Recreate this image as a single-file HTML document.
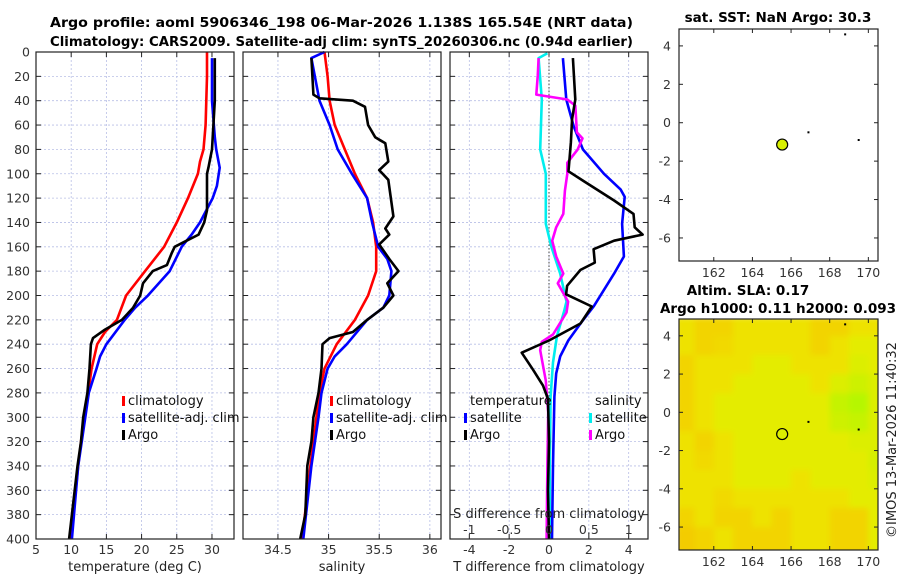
<!DOCTYPE html>
<html><head><meta charset="utf-8">
<style>
html,body{margin:0;padding:0;background:#fff;}
svg{display:block;font-family:"DejaVu Sans","Liberation Sans",sans-serif;}
.tk{font-size:12.5px;fill:#333;}
.ttl{font-size:13.5px;font-weight:bold;fill:#000;}
.lab{font-size:13px;fill:#222;}
.lg{font-size:13px;fill:#111;}
</style></head>
<body>
<svg id="chart" width="900" height="580" viewBox="0 0 900 580" xmlns="http://www.w3.org/2000/svg">
<defs><filter id="blur" x="-5%" y="-5%" width="110%" height="110%"><feGaussianBlur stdDeviation="3"/></filter></defs>
<rect x="0" y="0" width="900" height="580" fill="#fff"/>
<text class="ttl" x="50" y="27" textLength="583" lengthAdjust="spacingAndGlyphs">Argo profile: aoml 5906346_198 06-Mar-2026 1.138S 165.54E (NRT data)</text>
<text class="ttl" x="50" y="46" textLength="583" lengthAdjust="spacingAndGlyphs">Climatology: CARS2009. Satellite-adj clim: synTS_20260306.nc (0.94d earlier)</text>
<g id="layer"></g>
<text class="ttl" x="778" y="22" text-anchor="middle">sat. SST: NaN Argo: 30.3</text>
<text class="ttl" x="748" y="295" text-anchor="middle">Altim. SLA: 0.17</text>
<text class="ttl" x="778" y="313" text-anchor="middle">Argo h1000: 0.11 h2000: 0.093</text>
<text class="lab" transform="translate(896,440) rotate(-90)" text-anchor="middle">©IMOS 13-Mar-2026 11:40:32</text>
</svg>
<script>
// ---- data ----
const depthTicks=[0,20,40,60,80,100,120,140,160,180,200,220,240,260,280,300,320,340,360,380,400];
const tempTicks=[5,10,15,20,25,30];
const salTicks=[34.5,35,35.5,36];
const salTickLabels=["34.5","35","35.5","36"];
const tdiffTicks=[-4,-2,0,2,4];
const sdiffTicks=[-1,-0.5,0,0.5,1];
const sdiffTickLabels=["-1","-0.5","0","0.5","1"];

const tClimDepth=[0,20,60,80,90,100,120,140,160,180,200,220,230,240,260,280,300,340,380,400];
const tClim=[29.3,29.3,29.1,28.8,28.3,28.0,26.6,25.0,23.2,20.5,17.8,16.5,14.8,13.7,12.9,12.4,11.8,11.0,10.3,9.9];
const tSatDepth=[5,40,70,80,95,110,120,140,150,160,180,200,210,220,240,250,260,280,300,340,400];
const tSat=[30.0,30.0,30.4,30.6,31.1,30.7,30.1,28.3,27.1,25.7,24.0,20.9,19.1,17.6,15.0,14.1,13.6,12.5,12.0,11.0,10.1];
const tArgoDepth=[5,40,50,80,95,100,130,140,150,155,160,165,175,180,190,200,210,220,228,235,240,260,280,300,320,340,360,380,400];
const tArgo=[30.4,30.4,30.3,30.0,29.5,29.3,29.3,28.9,28.1,26.4,24.7,24.3,23.6,21.6,20.2,19.8,18.8,17.2,14.8,13.1,12.8,12.6,12.3,11.7,11.4,10.9,10.5,10.1,9.7];

const sClimDepth=[0,20,40,60,80,100,120,140,160,180,200,220,240,260,280,300,340,400];
const sClim=[34.96,34.99,35.01,35.06,35.16,35.26,35.38,35.44,35.47,35.47,35.39,35.26,35.08,34.96,34.91,34.88,34.82,34.74];
const sSatDepth=[0,5,40,60,80,100,120,140,160,170,180,200,210,220,240,250,260,280,300,340,400];
const sSat=[34.96,34.83,34.91,35.01,35.09,35.23,35.38,35.43,35.49,35.58,35.62,35.60,35.54,35.38,35.18,35.06,34.99,34.93,34.90,34.83,34.75];
const sArgoDepth=[5,35,38,40,45,60,70,75,90,97,105,135,145,150,158,170,180,190,200,210,220,230,235,240,260,280,300,320,340,380,400];
const sArgo=[34.83,34.85,34.91,35.24,35.36,35.39,35.46,35.56,35.59,35.50,35.59,35.64,35.56,35.60,35.50,35.60,35.69,35.58,35.64,35.54,35.38,35.24,35.01,34.94,34.93,34.90,34.85,34.83,34.79,34.77,34.72];

const dTSatDepth=[5,39,61,80,100,113,119,141,168,182,209,223,237,250,264,283,340,400];
const dTSat=[0.70,0.87,1.24,1.70,2.76,3.60,3.80,3.67,3.76,3.27,2.24,1.58,0.97,0.56,0.36,0.27,0.2,0.15];
const dTArgoDepth=[5,39,55,74,98,106,122,133,144,150,155,162,173,179,192,199,209,223,237,247,261,274,285,320,360,400];
const dTArgo=[1.20,1.32,1.16,1.10,0.98,1.74,3.27,4.24,4.30,4.70,3.27,2.24,2.30,1.58,0.91,0.86,2.15,1.58,0.0,-1.37,-0.80,-0.30,-0.05,0.0,-0.05,0.0];
const dSSatDepth=[1,5,39,80,100,141,160,182,205,213,233,255,283,340,400];
const dSSat=[-0.02,-0.13,-0.09,-0.11,-0.04,-0.04,0.03,0.14,0.22,0.19,0.10,0.05,0.02,0.01,0.01];
const dSArgoDepth=[5,19,35,39,44,66,71,80,91,100,114,133,144,155,168,182,190,205,214,232,238,245,270,296,340,400];
const dSArgo=[-0.13,-0.14,-0.16,0.23,0.33,0.35,0.42,0.36,0.23,0.23,0.20,0.18,0.09,0.04,0.09,0.18,0.11,0.24,0.22,0.05,-0.09,-0.11,-0.04,-0.01,-0.02,-0.03];

const mapLonTicks=[162,164,166,168,170];
const mapLatTicks=[4,2,0,-2,-4,-6];
const floatLon=165.54, floatLat=-1.138;
const otherLon=[168.8,166.9,169.5];
const otherLat=[4.6,-0.5,-0.9];
const slaLon=[160.5,161.5,162.5,163.5,164.5,165.5,166.5,167.5,168.5,169.5,170.5];
const slaLat=[4.5,3.5,2.5,1.5,0.5,-0.5,-1.5,-2.5,-3.5,-4.5,-5.5,-6.5,-7.5];
const slaGrid=[
[0.16,0.13,0.13,0.16,0.16,0.16,0.16,0.13,0.13,0.16,0.16],
[0.16,0.13,0.14,0.16,0.16,0.16,0.16,0.13,0.16,0.18,0.18],
[0.13,0.16,0.16,0.16,0.18,0.18,0.16,0.16,0.16,0.19,0.18],
[0.13,0.16,0.16,0.18,0.18,0.18,0.18,0.16,0.19,0.21,0.19],
[0.13,0.16,0.18,0.18,0.18,0.18,0.18,0.18,0.22,0.24,0.19],
[0.13,0.16,0.18,0.18,0.18,0.18,0.18,0.18,0.21,0.22,0.19],
[0.16,0.13,0.16,0.18,0.18,0.18,0.18,0.18,0.18,0.19,0.19],
[0.16,0.14,0.16,0.18,0.18,0.18,0.18,0.18,0.18,0.18,0.20],
[0.16,0.16,0.16,0.18,0.18,0.18,0.16,0.18,0.18,0.18,0.19],
[0.16,0.16,0.14,0.16,0.16,0.16,0.16,0.16,0.16,0.18,0.18],
[0.13,0.16,0.13,0.13,0.16,0.13,0.16,0.16,0.13,0.13,0.18],
[0.11,0.13,0.16,0.13,0.13,0.13,0.16,0.16,0.13,0.13,0.18],
[0.11,0.13,0.16,0.13,0.13,0.13,0.16,0.16,0.13,0.13,0.18]];

// ---- drawing ----
const NS="http://www.w3.org/2000/svg";
const layer=document.getElementById('layer');
function mk(tag,attrs,parent){const e=document.createElementNS(NS,tag);for(const k in attrs)e.setAttribute(k,attrs[k]);(parent||layer).appendChild(e);return e;}
const Y0=52,Y1=539;
const yD=d=>Y0+(Y1-Y0)*d/400;
const panels=[
 {x0:36,x1:234,min:5,max:33.13,name:'temperature-panel'},
 {x0:243,x1:441,min:34.155,max:36.11,name:'salinity-panel'},
 {x0:450,x1:648,min:-4.97,max:4.97,name:'difference-panel'}];
panels.forEach(p=>{p.f=v=>p.x0+(v-p.min)/(p.max-p.min)*(p.x1-p.x0);});
const xT=panels[0].f,xS=panels[1].f,xDT=panels[2].f;
const xDS=v=>xDT(v*4);

function grid(p,xt,xf){
 const g=mk('g',{});
 
 
 depthTicks.forEach(d=>{mk('line',{x1:p.x0,x2:p.x1,y1:yD(d),y2:yD(d),stroke:'#b8bfe6','stroke-width':0.8,'stroke-dasharray':'2,2'},g);});
 xt.forEach(v=>{const x=xf(v);mk('line',{x1:x,x2:x,y1:Y0,y2:Y1,stroke:'#b8bfe6','stroke-width':0.8,'stroke-dasharray':'2,2'},g);});
 depthTicks.forEach(d=>{mk('line',{x1:p.x0,x2:p.x0+5,y1:yD(d),y2:yD(d),stroke:'#222'},g);mk('line',{x1:p.x1,x2:p.x1-5,y1:yD(d),y2:yD(d),stroke:'#222'},g);});
 xt.forEach(v=>{const x=xf(v);mk('line',{x1:x,x2:x,y1:Y1,y2:Y1-5,stroke:'#222'},g);mk('line',{x1:x,x2:x,y1:Y0,y2:Y0+5,stroke:'#222'},g);});
}
grid(panels[0],tempTicks,xT);
grid(panels[1],salTicks,xS);
grid(panels[2],tdiffTicks,xDT);
const zl=mk('line',{x1:xDT(0),x2:xDT(0),y1:Y0,y2:Y1,stroke:'#444','stroke-width':1,'stroke-dasharray':'1.5,2'});



function series(depths,vals,xf,color,name){
 let d='';
 for(let i=0;i<depths.length;i++){d+=(i?'L':'M')+xf(vals[i]).toFixed(1)+','+yD(depths[i]).toFixed(1);}
 const e=mk('path',{d:d,fill:'none',stroke:color,'stroke-width':2.6,'stroke-linejoin':'round'});
 
 
}
series(tClimDepth,tClim,xT,'#ff0000','temp-climatology-line');
series(tSatDepth,tSat,xT,'#0000ff','temp-satellite-line');
series(tArgoDepth,tArgo,xT,'#000000','temp-argo-line');
series(sClimDepth,sClim,xS,'#ff0000','sal-climatology-line');
series(sSatDepth,sSat,xS,'#0000ff','sal-satellite-line');
series(sArgoDepth,sArgo,xS,'#000000','sal-argo-line');
series(dSSatDepth,dSSat,xDS,'#00eeee','sdiff-satellite-line');
series(dTSatDepth,dTSat,xDT,'#0000ff','tdiff-satellite-line');
series(dSArgoDepth,dSArgo,xDS,'#ff00ff','sdiff-argo-line');
series(dTArgoDepth,dTArgo,xDT,'#000000','tdiff-argo-line');

panels.forEach(p=>{const r=mk('rect',{x:p.x0,y:Y0,width:p.x1-p.x0,height:Y1-Y0,fill:'none',stroke:'#222','stroke-width':1.2});
 
 });

function txt(x,y,s,cls,anchor,name){const e=mk('text',{x:x,y:y,class:cls,'text-anchor':anchor||'middle'});e.textContent=s;
 
 return e;}
depthTicks.forEach(d=>txt(30,yD(d)+4.5,String(d),'tk','end','depth-tick-label'));
tempTicks.forEach(v=>txt(xT(v),554,String(v),'tk','middle','temp-tick-label'));
salTicks.forEach((v,i)=>txt(xS(v),554,salTickLabels[i],'tk','middle','sal-tick-label'));
tdiffTicks.forEach(v=>txt(xDT(v),554,String(v),'tk','middle','tdiff-tick-label'));
sdiffTicks.forEach((v,i)=>txt(xDS(v),534,sdiffTickLabels[i],'tk','middle','sdiff-tick-label'));
txt(135,571,'temperature (deg C)','lab','middle','temp-axis-title');
txt(342,571,'salinity','lab','middle','sal-axis-title');
txt(549,571,'T difference from climatology','lab','middle','tdiff-axis-title');
txt(549,518,'S difference from climatology','lab','middle','sdiff-axis-title');

function legend(x,y,color,label,name){
 const g=mk('g',{});
 
 
 mk('rect',{x:x,y:y-9,width:3,height:10,fill:color},g);
 const t=mk('text',{x:x+6,y:y,class:'lg'},g);t.textContent=label;
}
legend(122,405,'#ff0000','climatology','legend-temp-climatology');
legend(122,422,'#0000ff','satellite-adj. clim','legend-temp-satellite');
legend(122,439,'#000000','Argo','legend-temp-argo');
legend(330,405,'#ff0000','climatology','legend-sal-climatology');
legend(330,422,'#0000ff','satellite-adj. clim','legend-sal-satellite');
legend(330,439,'#000000','Argo','legend-sal-argo');
txt(470,405,'temperature','lg','start','legend-temperature-heading');
txt(595,405,'salinity','lg','start','legend-salinity-heading');
legend(464,422,'#0000ff','satellite','legend-tdiff-satellite');
legend(464,439,'#000000','Argo','legend-tdiff-argo');
legend(589,422,'#00eeee','satellite','legend-sdiff-satellite');
legend(589,439,'#ff00ff','Argo','legend-sdiff-argo');

// ---- maps ----
const MX0=679,MX1=878,LON0=160.2,LON1=170.5,LAT0=4.88,LAT1=-7.2;
const mLon=lon=>MX0+(lon-LON0)/(LON1-LON0)*(MX1-MX0);
function slaColor(v){
 const stops=[[0.10,[244,200,0]],[0.13,[242,212,0]],[0.16,[238,226,0]],[0.18,[228,236,0]],[0.24,[182,246,0]]];
 if(v<=stops[0][0])return 'rgb('+stops[0][1]+')';
 for(let i=1;i<stops.length;i++){if(v<=stops[i][0]){const a=stops[i-1],b=stops[i],t=(v-a[0])/(b[0]-a[0]);return 'rgb('+a[1].map((c,k)=>Math.round(c+(b[1][k]-c)*t)).join(',')+')';}}
 return 'rgb('+stops[stops.length-1][1]+')';
}
function drawMap(top,bottom,name,heat){
 const mLat=lat=>top+(lat-LAT0)/(LAT1-LAT0)*(bottom-top);
 const g=mk('g',{});
 
 
 if(heat){
  const cp=mk('clipPath',{id:name+'-clip'},g);mk('rect',{x:MX0,y:top,width:MX1-MX0,height:bottom-top},cp);
  const outer=mk('g',{'clip-path':'url(#'+name+'-clip)'},g);
  const hg=mk('g',{filter:'url(#blur)'},outer);
  for(let j=0;j<slaLat.length;j++)for(let i=0;i<slaLon.length;i++){
   const x=mLon(slaLon[i]-0.5),y=mLat(slaLat[j]+0.5);
   const c=mk('rect',{x:x.toFixed(1),y:y.toFixed(1),width:(mLon(1)-mLon(0)+0.6).toFixed(1),height:(mLat(-1)-mLat(0)+0.6).toFixed(1),fill:slaColor(slaGrid[j][i])},hg);
   
   
  }
 }
 mapLonTicks.forEach(v=>{const x=mLon(v);mk('line',{x1:x,x2:x,y1:top,y2:top+4,stroke:'#222'},g);mk('line',{x1:x,x2:x,y1:bottom,y2:bottom-4,stroke:'#222'},g);
  const t=mk('text',{x:x,y:bottom+16,class:'tk','text-anchor':'middle'},g);t.textContent=String(v);});
 mapLatTicks.forEach(v=>{const y=mLat(v);mk('line',{x1:MX0,x2:MX0+4,y1:y,y2:y,stroke:'#222'},g);mk('line',{x1:MX1,x2:MX1-4,y1:y,y2:y,stroke:'#222'},g);
  const t=mk('text',{x:MX0-8,y:y+4.5,class:'tk','text-anchor':'end'},g);t.textContent=String(v);});
 otherLon.forEach((lo,i)=>{const d=mk('rect',{x:mLon(lo)-1,y:mLat(otherLat[i])-1,width:2,height:2,fill:'#000'},g);
  
  });
 const c=mk('circle',{cx:mLon(floatLon),cy:mLat(floatLat),r:5.5,fill:heat?slaColor(0.19):'#d8f000',stroke:'#000','stroke-width':1.2},g);
 
 
 mk('rect',{x:MX0,y:top,width:MX1-MX0,height:bottom-top,fill:'none',stroke:'#222','stroke-width':1.2},g);
}
drawMap(29,261,'sst-map',false);
drawMap(319,550,'sla-map',true);
</script>
</body></html>
